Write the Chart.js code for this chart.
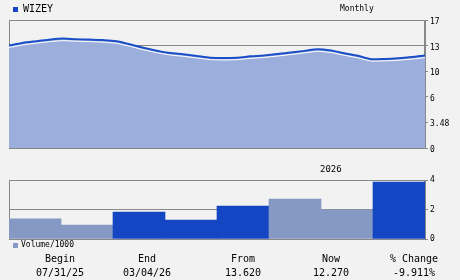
<!DOCTYPE html>
<html>
<head>
<meta charset="utf-8">
<script src="https://cdn.jsdelivr.net/npm/chart.js@4.4.0/dist/chart.umd.min.js"></script>
<style>
  body { margin: 0; background: #f2f2f2; font-family: 'DejaVu Sans Mono', monospace; }
  #wrap { position: relative; width: 460px; height: 280px; overflow: hidden; }
  canvas { position: absolute; left: 0; }
  .txt { position: absolute; color: #000; white-space: nowrap; line-height: 1; }
  .sq { position: absolute; }
  .foot { position: absolute; font-size: 10px; text-align: center; width: 90px; line-height: 14px; }
</style>
</head>
<body>
<div id="wrap">
  <canvas id="priceChart" width="460" height="160" style="top:0"></canvas>
  <canvas id="volChart" width="460" height="90" style="top:160px"></canvas>

  <div class="sq" style="left:13px;top:7px;width:5px;height:5px;background:#1446c4"></div>
  <div class="txt" style="left:23px;top:4px;font-size:10px">WIZEY</div>
  <div class="txt" style="left:340px;top:5px;font-size:8px">Monthly</div>
  <div class="txt" style="left:320px;top:165px;font-size:9px">2026</div>
  <div class="sq" style="left:13px;top:243px;width:5px;height:5px;background:#8599c4"></div>
  <div class="txt" style="left:21px;top:241px;font-size:8px">Volume/1000</div>

  <div id="footer"></div>
</div>
<script>
// Цена по месяцам (линия с заливкой)
const pricePoints = ['', '', '', '', '', '', '', '', '', '', '', '', '', '', '', '',
                     '', '', '', '', '', '', '', '', '', '', '', '', '', '', '', ''];
const priceValues = [13.62, 13.95, 14.18, 14.39, 14.53, 14.45, 14.40, 14.33, 14.18, 13.78, 13.32, 12.93,
                     12.62, 12.44, 12.22, 12.00, 11.95, 12.00, 12.17, 12.30, 12.47, 12.68, 12.90, 13.12,
                     12.95, 12.58, 12.24, 11.80, 11.83, 11.92, 12.07, 12.27];
const priceTicks = [0, 3.4, 6.8, 10.2, 13.6, 17];
const priceTickLabels = ['0', '3.48', '6', '10', '13', '17'];

// Объём
const volMonths = ['Jul', 'Aug', 'Sep', 'Oct', 'Nov', 'Dec', 'Jan', 'Feb'];
const volValues = [1.36, 0.95, 1.83, 1.29, 2.24, 2.71, 1.97, 3.86];
const volUp = [false, false, true, true, true, false, false, true];

// Итоги внизу
const footLabels = ['Begin', 'End', 'From', 'Now', '% Change'];
const footValues = ['07/31/25', '03/04/26', '13.620', '12.270', '-9.911%'];
const footCenters = [60, 147, 243, 331, 414];

const GRAY = '#888888';
const DARK = '#1446c4';
const LIGHT = '#8599c4';

Chart.defaults.font.family = "'DejaVu Sans Mono', monospace";
Chart.defaults.color = '#000';

// Рамка вокруг области графика
const boxPlugin = {
    id: 'box',
    beforeDatasetsDraw(chart) {
        const a = chart.chartArea;
        const ctx = chart.ctx;
        ctx.save();
        ctx.strokeStyle = GRAY;
        ctx.lineWidth = 1;
        ctx.strokeRect(a.left + 0.5, a.top + 0.5, a.right - a.left - 1, a.bottom - a.top);
        ctx.restore();
    }
};

// Белая линия под ценой
const shadowPlugin = {
    id: 'shadow',
    afterDatasetsDraw(chart) {
        const pts = chart.getDatasetMeta(0).data;
        const ctx = chart.ctx;
        ctx.save();
        ctx.strokeStyle = '#ffffff';
        ctx.lineWidth = 1;
        ctx.beginPath();
        pts.forEach((p, i) => {
            if (i === 0) ctx.moveTo(p.x, p.y + 2);
            else ctx.lineTo(p.x, p.y + 2);
        });
        ctx.stroke();
        ctx.restore();
    }
};

new Chart(document.getElementById('priceChart'), {
    type: 'line',
    data: {
        labels: pricePoints,
        datasets: [{
            data: priceValues,
            borderColor: '#1a4fc8',
            borderWidth: 2,
            backgroundColor: '#9caedb',
            fill: 'origin',
            pointRadius: 0,
            tension: 0.3
        }]
    },
    options: {
        responsive: false,
        animation: false,
        layout: { padding: { left: 9, top: 20, bottom: 12, right: 0 } },
        plugins: { legend: { display: false }, tooltip: { enabled: false } },
        scales: {
            x: { display: false },
            y: {
                position: 'right',
                min: 0,
                max: 17,
                afterFit(axis) { axis.width = 35; },
                afterBuildTicks(axis) { axis.ticks = priceTicks.map(v => ({ value: v })); },
                grid: { color: GRAY, tickLength: 3 },
                border: { color: GRAY },
                ticks: {
                    padding: 2,
                    labelOffset: 2,
                    font: { size: 8 },
                    callback: (v, i) => priceTickLabels[i]
                }
            }
        }
    },
    plugins: [boxPlugin, shadowPlugin]
});

new Chart(document.getElementById('volChart'), {
    type: 'bar',
    data: {
        labels: volMonths,
        datasets: [{
            data: volValues,
            backgroundColor: volUp.map(u => u ? DARK : LIGHT),
            categoryPercentage: 1,
            barPercentage: 1
        }]
    },
    options: {
        responsive: false,
        animation: false,
        layout: { padding: { left: 9, top: 20, bottom: 11, right: 0 } },
        plugins: { legend: { display: false }, tooltip: { enabled: false } },
        scales: {
            x: { display: false },
            y: {
                position: 'right',
                min: 0,
                max: 4,
                afterFit(axis) { axis.width = 35; },
                grid: { color: GRAY, tickLength: 3 },
                border: { color: GRAY },
                ticks: { stepSize: 2, padding: 2, font: { size: 8 } }
            }
        }
    },
    plugins: [boxPlugin]
});

// Подписи внизу
const footer = document.getElementById('footer');
footLabels.forEach((label, i) => {
    const d = document.createElement('div');
    d.className = 'foot';
    d.style.left = (footCenters[i] - 45) + 'px';
    d.style.top = '252px';
    d.innerHTML = label + '<br>' + footValues[i];
    footer.appendChild(d);
});
</script>
</body>
</html>
